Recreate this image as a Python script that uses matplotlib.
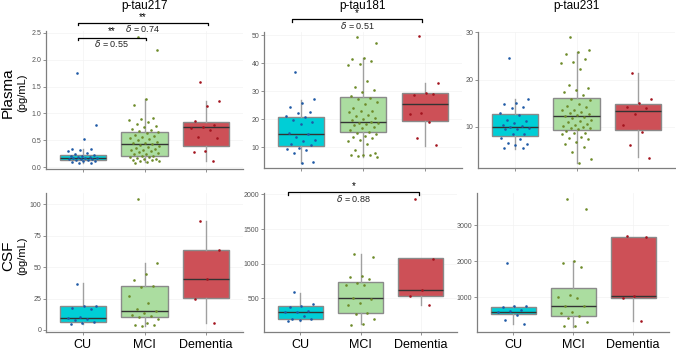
import numpy as np
import matplotlib
matplotlib.use("Agg")
import matplotlib.pyplot as plt

plt.rcParams["font.family"] = ["Liberation Sans Narrow", "Liberation Sans", "DejaVu Sans"]

groups = ["CU", "MCI", "Dementia"]
markers = ["p-tau217", "p-tau181", "p-tau231"]

# plasma, p-tau217
plasma_217_cu = [1.76, 0.79, 0.53, 0.35, 0.34, 0.32, 0.30, 0.27, 0.24, 0.23, 0.22, 0.21, 0.20, 0.19,
                 0.18, 0.18, 0.17, 0.16, 0.15, 0.15, 0.14, 0.13, 0.12, 0.11, 0.10, 0.09, 0.08]
plasma_217_mci = [2.41, 2.17, 1.26, 1.16, 0.91, 0.89, 0.87, 0.84, 0.80, 0.77, 0.75, 0.72, 0.70, 0.68,
                  0.65, 0.63, 0.60, 0.58, 0.56, 0.55, 0.52, 0.50, 0.48, 0.46, 0.45, 0.43, 0.42, 0.40,
                  0.38, 0.36, 0.35, 0.33, 0.32, 0.30, 0.28, 0.27, 0.25, 0.24, 0.22, 0.21, 0.20, 0.19,
                  0.18, 0.16, 0.15, 0.14, 0.13, 0.12, 0.11, 0.10, 0.09]
plasma_217_dem = [1.58, 1.23, 1.14, 0.86, 0.78, 0.75, 0.73, 0.70, 0.57, 0.55, 0.30, 0.28, 0.12]
# box stats: whislo, q1, median, q3, whishi
plasma_217_box = [(0.08, 0.14, 0.18, 0.23, 0.35), (0.10, 0.22, 0.43, 0.65, 1.26), (0.12, 0.39, 0.74, 0.85, 1.23)]

# plasma, p-tau181
plasma_181_cu = [36.8, 27.0, 25.8, 24.4, 22.5, 22.3, 21.0, 20.8, 19.8, 19.0, 18.3, 15.0, 14.8, 13.7,
                 12.6, 12.2, 11.0, 10.6, 9.5, 9.2, 9.0, 7.7, 4.8, 4.3]
plasma_181_mci = [49.4, 47.0, 41.9, 41.5, 40.7, 39.6, 39.2, 33.6, 31.3, 30.5, 29.6, 28.3, 27.5, 27.0,
                  26.0, 25.2, 24.0, 23.0, 22.8, 22.5, 21.5, 21.0, 20.5, 20.0, 19.5, 19.0, 18.7, 18.5,
                  18.3, 17.8, 17.0, 16.7, 16.0, 15.5, 15.0, 14.6, 14.0, 13.5, 13.2, 12.5, 12.0, 11.2,
                  9.0, 8.0, 7.3, 7.0, 7.0, 6.8, 6.6]
plasma_181_dem = [49.6, 32.9, 29.4, 28.7, 28.8, 22.2, 21.8, 18.8, 13.2, 10.6]
plasma_181_box = [(4.3, 10.5, 14.5, 20.8, 26.8), (6.5, 15.2, 18.8, 27.7, 41.7), (10.4, 19.4, 25.2, 29.2, 32.8)]

# plasma, p-tau231
plasma_231_cu = [24.6, 15.8, 15.0, 14.7, 14.1, 14.0, 12.8, 12.5, 11.3, 11.2, 10.8, 10.3, 10.2, 10.0,
                 9.8, 9.5, 9.4, 8.5, 8.5, 7.6, 7.3, 6.6, 6.2, 6.0, 5.5, 5.4]
plasma_231_mci = [29.0, 26.2, 25.9, 25.4, 24.3, 23.8, 23.5, 22.2, 18.9, 18.2, 17.7, 17.3, 16.7, 15.9,
                  15.6, 14.8, 14.4, 14.2, 13.6, 13.5, 13.2, 12.9, 12.7, 12.5, 12.2, 12.0, 11.8, 11.5,
                  11.2, 10.9, 10.6, 10.3, 10.1, 9.9, 9.7, 9.6, 9.4, 9.0, 8.7, 8.6, 8.4, 7.8, 7.5, 7.4,
                  6.7, 6.2, 5.7, 4.7, 3.2, 2.2]
plasma_231_dem = [21.3, 15.9, 15.1, 14.2, 13.9, 12.7, 10.4, 8.9, 6.0, 3.4]
plasma_231_box = [(5.3, 7.9, 10.0, 12.7, 15.8), (2.2, 9.3, 12.3, 16.0, 25.8), (3.5, 9.3, 13.3, 14.8, 21.3)]

# CSF, p-tau217
csf_217_cu = [36.8, 19.0, 18.8, 17.5, 16.5, 10.3, 9.5, 8.5, 7.8, 6.4, 5.5, 5.0]
csf_217_mci = [104.5, 53.5, 44.8, 40.0, 34.8, 34.4, 27.0, 21.5, 17.0, 15.0, 13.5, 12.3, 11.3, 10.6,
               8.5, 5.5, 4.3, 4.0, 3.3]
csf_217_dem = [86.7, 63.7, 40.8, 25.0, 5.6]
csf_217_box = [(4.8, 6.4, 9.8, 18.8, 37.0), (3.4, 10.1, 14.9, 34.7, 53.0), (5.8, 25.5, 40.8, 63.7, 86.7)]

# CSF, p-tau181
csf_181_cu = [586, 414, 390, 370, 323, 310, 305, 250, 208, 200, 184, 174]
csf_181_mci = [1140, 1090, 821, 810, 775, 720, 700, 690, 500, 490, 433, 400, 290, 280, 203, 130, 112]
csf_181_dem = [1933, 1075, 620, 530, 404]
csf_181_box = [(169, 208, 304, 385, 577), (131, 289, 510, 735, 1142), (409, 529, 625, 1080, 1080)]

# CSF, p-tau231
csf_231_cu = [1944, 759, 750, 740, 648, 620, 583, 519, 370, 259]
csf_231_mci = [3722, 3463, 2020, 1963, 1852, 1055, 1000, 995, 760, 750, 602, 556, 480, 435, 305, 204, 190]
csf_231_dem = [2704, 2680, 1046, 972, 352]
csf_231_box = [(259, 537, 602, 722, 760), (185, 481, 750, 1250, 2019), (352, 972, 1046, 2667, 2685)]

# significance brackets: (row, col, x start, x end, y, stars, delta)
brackets = [
    (0, 0, 0.92, 2.02, 2.406, "**", "0.55"),
    (0, 0, 0.92, 3.03, 2.684, "**", "0.74"),
    (0, 1, 0.85, 2.96, 55.6, "*", "0.51"),
    (1, 1, 0.80, 2.97, 2030, "*", "0.88"),
]

box_fill = ["#00CED6", "#ABDDA0", "#CD5057"]
pt_color = ["#1F5AA6", "#6E8B2A", "#A3141E"]

W, H = 676, 353
# panel rectangles in pixels: left, right, top, bottom
rects = [
    [(46, 243, 31, 169), (264, 462, 32, 168), (478, 675, 32, 168)],
    [(46, 243, 193, 332), (264, 457, 193, 332), (477, 669, 193, 332)],
]
ylims = [[(-0.03, 2.53), (2.5, 51.1), (1.2, 30.1)],
         [(-1.6, 109), (15, 2020), (36, 3900)]]
yticks = [[[0, 0.5, 1.0, 1.5, 2.0, 2.5], [10, 20, 30, 40, 50], [10, 20, 30]],
          [[0, 25, 50, 75, 100], [500, 1000, 1500, 2000], [1000, 2000, 3000]]]

panels = [
    [(plasma_217_cu, plasma_217_mci, plasma_217_dem, plasma_217_box),
     (plasma_181_cu, plasma_181_mci, plasma_181_dem, plasma_181_box),
     (plasma_231_cu, plasma_231_mci, plasma_231_dem, plasma_231_box)],
    [(csf_217_cu, csf_217_mci, csf_217_dem, csf_217_box),
     (csf_181_cu, csf_181_mci, csf_181_dem, csf_181_box),
     (csf_231_cu, csf_231_mci, csf_231_dem, csf_231_box)],
]

fig = plt.figure(figsize=(W / 100, H / 100), dpi=100)
axes = [[None] * 3 for _ in range(2)]

for r in range(2):
    for c in range(3):
        l, rr, t, b = rects[r][c]
        ax = fig.add_axes([l / W, 1 - b / H, (rr - l) / W, (b - t) / H])
        axes[r][c] = ax
        cu, mci, dem, box = panels[r][c]
        stats = [dict(whislo=s[0], q1=s[1], med=s[2], q3=s[3], whishi=s[4]) for s in box]
        bp = ax.bxp(stats, positions=[1, 2, 3], widths=0.75, patch_artist=True,
                    showfliers=False, showcaps=False,
                    boxprops=dict(edgecolor="#8a8a8a", linewidth=1.0),
                    medianprops=dict(color="#333333", linewidth=1.0),
                    whiskerprops=dict(color="#a0a0a0", linewidth=1.0))
        for patch, fc in zip(bp["boxes"], box_fill):
            patch.set_facecolor(fc)
        for i, vals in enumerate([cu, mci, dem]):
            n = len(vals)
            jit = ((np.arange(n) * 0.618034 + 0.3) % 1 - 0.5) * 0.5
            ax.scatter(i + 1 + jit, vals, s=3.5, color=pt_color[i], linewidths=0, zorder=4)

        ax.set_xlim(0.4, 3.6)
        ax.set_ylim(*ylims[r][c])
        ax.set_yticks(yticks[r][c])
        if r == 0 and c == 0:
            ax.set_yticklabels([f"{v:.1f}" for v in yticks[r][c]])
        ax.set_xticks([1, 2, 3])
        if r == 1:
            ax.set_xticklabels(groups, fontsize=9)
        else:
            ax.set_xticklabels([])
            fig.text((l + rr) / 2 / W, 1 - 6 / H, markers[c], fontsize=8.5, ha="center", va="center")
        for s in ["top", "right"]:
            ax.spines[s].set_visible(False)
        for s in ["left", "bottom"]:
            ax.spines[s].set_color("#7f7f7f")
            ax.spines[s].set_linewidth(0.9)
        ax.tick_params(axis="y", labelsize=5, labelcolor="#555555", length=2, width=0.6,
                       color="#7f7f7f", pad=1.5)
        ax.tick_params(axis="x", length=2, width=0.6, color="#7f7f7f", pad=3)
        ax.grid(True, color="#f3f3f3", linewidth=0.5)
        ax.set_axisbelow(True)

for r, c, x1, x2, y, stars, d in brackets:
    ax = axes[r][c]
    lo, hi = ax.get_ylim()
    h = 0.02 * (hi - lo)
    xm = (x1 + x2) / 2
    ax.plot([x1, x1, x2, x2], [y - h, y, y, y - h], color="black", lw=0.9, clip_on=False, zorder=5)
    ax.annotate(stars, (xm, y), xytext=(0, 0.8), textcoords="offset points", ha="center",
                va="bottom", fontsize=7, annotation_clip=False)
    ax.annotate(r"$\delta$" + f" = {d}", (xm, y), xytext=(0, -4.5), textcoords="offset points",
                ha="center", va="center", fontsize=6.5, color="#222222", annotation_clip=False)

fig.text(8 / W, 1 - 93 / H, "Plasma", rotation=90, fontsize=11, ha="center", va="center")
fig.text(22 / W, 1 - 93 / H, "(pg/mL)", rotation=90, fontsize=8, ha="center", va="center")
fig.text(8 / W, 1 - 256 / H, "CSF", rotation=90, fontsize=11, ha="center", va="center")
fig.text(22 / W, 1 - 256 / H, "(pg/mL)", rotation=90, fontsize=8, ha="center", va="center")

fig.savefig("out.png", dpi=100)
